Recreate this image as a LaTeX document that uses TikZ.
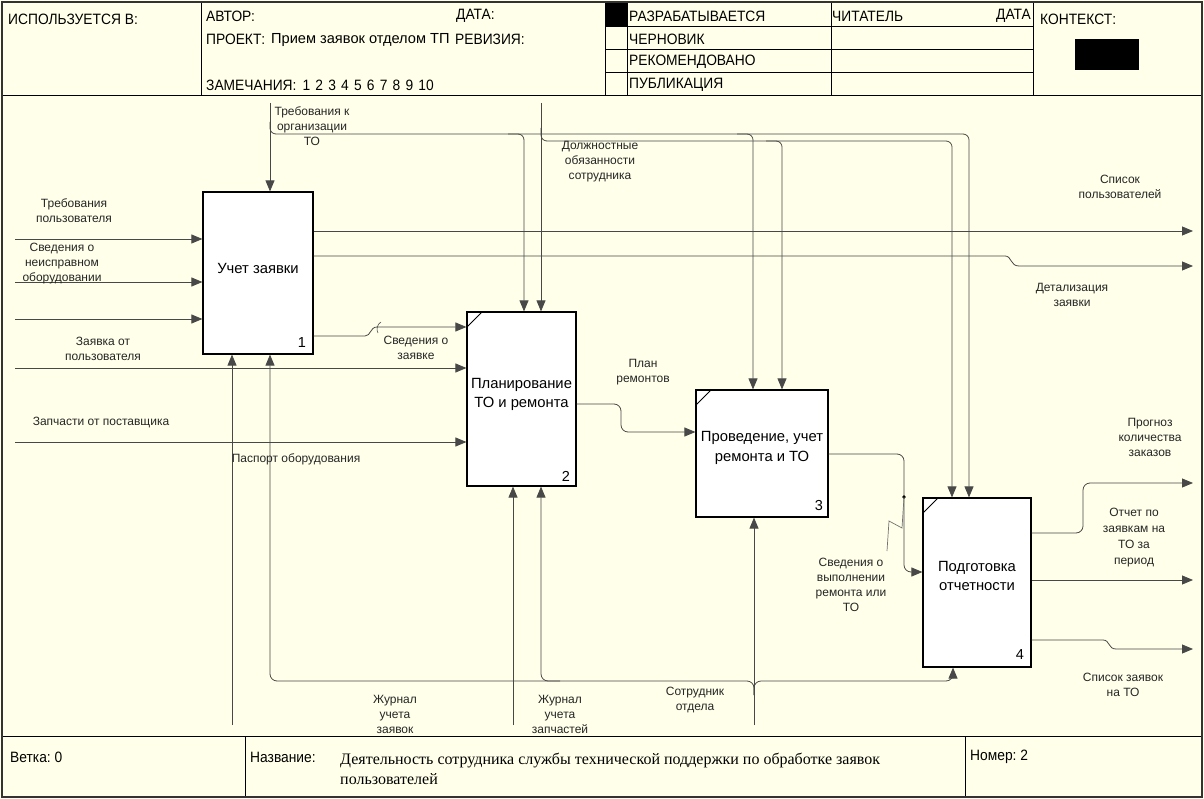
\documentclass[tikz,border=0pt]{standalone}
\usepackage{fontspec}
\setmainfont{Liberation Sans}
\newfontfamily\hdr[FakeStretch=0.92]{Liberation Sans}
\newfontfamily\ttlfont{Liberation Serif}
\usetikzlibrary{arrows.meta}
\definecolor{bg}{RGB}{255,255,234}
\definecolor{lnc}{RGB}{72,72,72}
\newcommand{\dsp}{\hspace{5.2pt}}
\begin{document}
\begin{tikzpicture}[x=1pt,y=-1pt,
  frame/.style={draw=black,line width=1pt},
  box/.style={draw=black,line width=1.2pt,fill=white,inner sep=0pt},
  btxt/.style={font=\fontsize{14.8}{19.5}\selectfont,align=center,inner sep=0pt},
  num/.style={font=\fontsize{14.5}{16}\selectfont,inner sep=0pt},
  lbl/.style={font=\fontsize{12}{15}\selectfont,align=center,inner sep=0pt,text=black!85},
  hd/.style={font=\hdr\fontsize{15}{16}\selectfont,inner sep=0pt,anchor=west},
  ln/.style={draw=lnc,line width=0.8pt},
  arr/.style={ln,-{Triangle[length=11pt,width=9pt]}},
  corner/.style={draw=black,line width=0.8pt}
]
\useasboundingbox (0,0) rectangle (1204,799);
\fill[bg] (0,0) rectangle (1204,799);

% ---------- header ----------
\fill[black] (605,3) rectangle (627,27);
\draw[frame] (201,3) -- (201,96);
\draw[frame] (605,3) -- (605,96);
\draw[frame] (627,3) -- (627,96);
\draw[frame] (831,3) -- (831,96);
\draw[frame] (1033,3) -- (1033,96);
\draw[frame] (605,27) -- (1033,27);
\draw[frame] (605,50) -- (1033,50);
\draw[frame] (605,73) -- (1033,73);
\fill[black] (1075,39) rectangle (1139,70);

\node[hd] (h1) at (8,19) {ИСПОЛЬЗУЕТСЯ В:};
\node[hd] (h2) at (206,16) {АВТОР:};
\node[hd] (h3) at (456,16) {ДАТА:};
\node[hd] (h4a) at (206,39) {ПРОЕКТ:};
\node[hd,font=\fontsize{14.6}{16}\selectfont,anchor=base west] (h4b) at (271,44) {Прием заявок отделом ТП};
\node[hd] (h4c) at (455,39) {РЕВИЗИЯ:};
\node[hd] (h5) at (206,85) {ЗАМЕЧАНИЯ:\hspace{6pt}1\dsp2\dsp3\dsp4\dsp5\dsp6\dsp7\dsp8\dsp9\dsp10};
\node[hd] (h6) at (629,16) {РАЗРАБАТЫВАЕТСЯ};
\node[hd] (h7) at (629,39) {ЧЕРНОВИК};
\node[hd] (h8) at (629,62) {РЕКОМЕНДОВАНО};
\node[hd] (h9) at (629,85) {ПУБЛИКАЦИЯ};
\node[hd] (h10) at (832,16) {ЧИТАТЕЛЬ};
\node[hd,anchor=east] (h11) at (1031,16) {ДАТА};
\node[hd] (h12) at (1040,19) {КОНТЕКСТ:};

% ---------- footer ----------
\draw[frame] (2,736) -- (1202,736);
\draw[frame] (245,736) -- (245,797);
\draw[frame] (965,736) -- (965,797);
\node[hd] (f1) at (10,757) {Ветка:\ 0};
\node[hd] (f2) at (250,757) {Название:};
\node[hd] (f3) at (970,757) {Номер:\ 2};
\node[font=\ttlfont\fontsize{16}{19}\selectfont,inner sep=0pt,anchor=west] (t1) at (340,760) {Деятельность сотрудника службы технической поддержки по обработке заявок};
\node[font=\ttlfont\fontsize{16}{19}\selectfont,inner sep=0pt,anchor=west] (t2) at (340,779) {пользователей};

% outer frame
\draw[frame] (2,96) -- (1202,96);
\draw[draw=black!80,line width=2.5pt] (2,2) rectangle (1202,797);

% ---------- boxes ----------
\node[box,minimum width=110,minimum height=162] (b1) at (258,273) {};
\node[box,minimum width=109,minimum height=174] (b2) at (521.5,399) {};
\node[box,minimum width=132,minimum height=127] (b3) at (762,453.5) {};
\node[box,minimum width=108,minimum height=169] (b4) at (977,582.5) {};
\draw[corner] (467,327) -- (482,312);
\draw[corner] (696,405) -- (711,390);
\draw[corner] (923,513) -- (938,498);

\node[btxt] (b1t) at (258,268) {Учет заявки};
\node[btxt] (b2t) at (521.5,394.5) {Планирование\\ТО и ремонта};
\node[btxt] (b3t) at (762,448) {Проведение, учет\\ремонта и ТО};
\node[btxt] (b4t) at (977,576) {Подготовка\\отчетности};
\node[num] (n1) at (302,343) {1};
\node[num] (n2) at (566,476) {2};
\node[num] (n3) at (819,506) {3};
\node[num] (n4) at (1020,655) {4};

% ---------- free ends ----------
\coordinate (i1) at (15,239);
\coordinate (i2) at (15,282);
\coordinate (i3) at (15,319);
\coordinate (i4) at (15,368);
\coordinate (i5) at (15,442);
\coordinate (c1) at (270,103);
\coordinate (c2) at (541,103);
\coordinate (m1) at (232,725);
\coordinate (m2) at (513,725);
\coordinate (m3) at (754,725);
\coordinate (o1) at (1193,231);
\coordinate (o2) at (1193,266);
\coordinate (o3) at (1193,483);
\coordinate (o4) at (1193,580);
\coordinate (o5) at (1193,649);

% inputs
\draw[arr] (i1) -- (i1 -| b1.west);
\draw[arr] (i2) -- (i2 -| b1.west);
\draw[arr] (i3) -- (i3 -| b1.west);
\draw[arr] (i4) -- (i4 -| b2.west);
\draw[arr] (i5) -- (i5 -| b2.west);

% controls
\draw[arr] (c1) -- (c1 |- b1.north);
\draw[arr,rounded corners=6] (270,122) -- (270,134) -- (969,134) -- (969,0 |- b4.north);
\draw[arr,rounded corners=6] (508,134) -- (524,134) -- (524,0 |- b2.north);
\draw[arr,rounded corners=6] (737,134) -- (753,134) -- (753,0 |- b3.north);
\draw[arr] (c2) -- (c2 |- b2.north);
\draw[arr,rounded corners=6] (541,128) -- (541,141) -- (952,141) -- (952,0 |- b4.north);
\draw[arr,rounded corners=6] (766,141) -- (782,141) -- (782,0 |- b3.north);

% mechanisms
\draw[arr] (m1) -- (m1 |- b1.south);
\draw[arr] (m2) -- (m2 |- b2.south);
\draw[arr] (m3) -- (m3 |- b3.south);
\draw[arr,rounded corners=7] (754,695) -- (754,681) -- (270,681) -- (270,0 |- b1.south);
\draw[arr,rounded corners=7] (754,695) -- (754,681) -- (953,681) -- (953,0 |- b4.south);
\draw[arr,rounded corners=7] (560,681) -- (541,681) -- (541,0 |- b2.south);

% outputs of box 1
\draw[arr] (b1.east |- o1) -- (o1);
\draw[arr] (b1.east |- 0,256) -- (1005,256) .. controls (1012,256) and (1010,266) .. (1019,266) -- (o2);
\draw[arr] (b1.east |- 0,336) -- (365,336) .. controls (371,336) and (370,327) .. (377,327) -- (b2.west |- 0,327);
\draw[ln,line width=0.6pt] (381,322) .. controls (377,324) and (376,330) .. (378,333);

% box 2 -> box 3
\draw[arr,rounded corners=7] (b2.east |- 0,404) -- (621,404) -- (621,432) -- (b3.west |- 0,432);
% box 3 -> box 4
\draw[arr,rounded corners=7] (b3.east |- 0,454) -- (904,454) -- (904,572) -- (b4.west |- 0,572);
\fill[black] (904,497) circle (1.8);
\draw[draw=black!55,line width=0.7pt] (887,551) -- (889,521) -- (902,528) -- (904,497);

% outputs of box 4
\draw[arr,rounded corners=7] (b4.east |- 0,533) -- (1083,533) -- (1083,483) -- (o3);
\draw[arr] (b4.east |- o4) -- (o4);
\draw[arr] (b4.east |- 0,640) -- (1103,640) .. controls (1110,640) and (1108,649) .. (1116,649) -- (o5);

% ---------- labels ----------
\node[lbl] (l1) at (312,126) {Требования к\\организации\\ТО};
\node[lbl] (l2) at (600,162) {Должностные\\обязанности\\сотрудника};
\node[lbl] (l3) at (1120,186.5) {Список\\пользователей};
\node[lbl] (l4) at (1072,294.5) {Детализация\\заявки};
\node[lbl] (l5) at (74,210.5) {Требования\\пользователя};
\node[lbl] (l6) at (62,264) {Сведения о\\неисправном\\оборудовании};
\node[lbl] (l7) at (103,348.5) {Заявка от\\пользователя};
\node[lbl] (l8) at (416,348) {Сведения о\\заявке};
\node[lbl] (l9) at (101,423) {Запчасти от поставщика};
\node[lbl] (l10) at (296,459) {Паспорт оборудования};
\node[lbl] (l11) at (643,372.5) {План\\ремонтов};
\node[lbl] (l12) at (851,585) {Сведения о\\выполнении\\ремонта или\\ТО};
\node[lbl] (l13) at (1150,437) {Прогноз\\количества\\заказов};
\node[lbl,font=\fontsize{12}{16}\selectfont] (l14) at (1134,537.5) {Отчет по\\заявкам на\\ТО за\\период};
\node[lbl] (l15) at (1123,684.5) {Список заявок\\на ТО};
\node[lbl] (l16) at (395,714) {Журнал\\учета\\заявок};
\node[lbl] (l17) at (560,714) {Журнал\\учета\\запчастей};
\node[lbl] (l18) at (695,700) {Сотрудник\\отдела};
\end{tikzpicture}
\end{document}
